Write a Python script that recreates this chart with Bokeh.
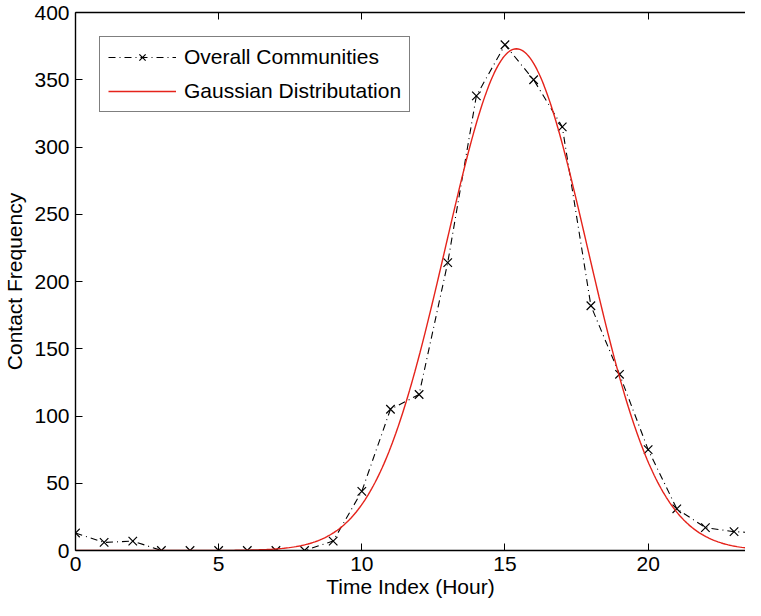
import numpy as np
from bokeh.plotting import figure
from bokeh.models import LinearAxis, Range1d, Legend, LegendItem, FixedTicker
from bokeh.embed import file_html
from bokeh.resources import INLINE

hours = list(range(0, 25))
contacts = [13, 6, 7, 0, 0, 0, 0, 0, 0, 7, 44, 105, 116, 214, 338, 376,
            350, 315, 182, 131, 75, 31, 17, 14, 13]
# Gaussian fit parameters (amplitude, mean, std)
g_amp, g_mu, g_sigma = 373.0, 15.4, 2.47
x_ticks = [0, 5, 10, 15, 20]
y_ticks = [0, 50, 100, 150, 200, 250, 300, 350, 400]

gx = np.linspace(0, 24, 400)
gy = g_amp * np.exp(-((gx - g_mu) ** 2) / (2 * g_sigma ** 2))

FONT = "Liberation Sans"
FS = "21px"

p = figure(width=745, height=600, output_backend="svg", toolbar_location=None,
           x_range=Range1d(0, 23.4), y_range=Range1d(0, 400),
           min_border_left=74, min_border_top=12, min_border_right=0,
           min_border_bottom=50, x_axis_location=None, y_axis_location=None)
p.grid.visible = False
p.outline_line_color = None
p.background_fill_color = "white"
p.border_fill_color = "white"

def style(ax, ticks):
    ax.ticker = FixedTicker(ticks=ticks)
    ax.axis_line_color = "black"
    ax.axis_line_width = 1.4
    ax.major_tick_in = 7
    ax.major_tick_out = 0
    ax.minor_tick_line_color = None
    ax.major_tick_line_color = "black"
    ax.major_label_text_font = FONT
    ax.major_label_text_font_size = FS
    ax.major_label_text_color = "black"
    ax.axis_label_text_font = FONT
    ax.axis_label_text_font_size = FS
    ax.axis_label_text_font_style = "normal"
    ax.axis_label_text_color = "black"

xb = LinearAxis(axis_label="Time Index (Hour)")
style(xb, x_ticks)
xb.major_label_standoff = 6
xb.axis_label_standoff = 1
p.add_layout(xb, "below")

yl = LinearAxis(axis_label="Contact Frequency")
style(yl, y_ticks)
yl.major_label_standoff = 6
yl.axis_label_standoff = 5
p.add_layout(yl, "left")

xt = LinearAxis()
style(xt, x_ticks)
xt.major_label_overrides = {t: "" for t in x_ticks}
xt.major_label_standoff = 0
p.add_layout(xt, "above")

r1 = p.line(hours, contacts, line_color="black", line_width=1.1, line_dash="7 4 1 4")
r1m = p.scatter(hours, contacts, marker="x", size=12, line_color="black", line_width=1.2)
r2 = p.line(gx, gy, line_color="#e5231b", line_width=1.4)

legend = Legend(items=[LegendItem(label="Overall Communities", renderers=[r1, r1m]),
                       LegendItem(label="Gaussian Distributation", renderers=[r2])],
                location="top_left")
legend.border_line_color = "black"
legend.border_line_width = 1.4
legend.background_fill_alpha = 1
legend.label_text_font = FONT
legend.label_text_font_size = FS
legend.label_text_color = "black"
legend.glyph_width = 68
legend.glyph_height = 22
legend.label_height = 22
legend.spacing = 10
legend.padding = 8
legend.margin = 24
legend.label_standoff = 8
p.add_layout(legend, "center")

open("out.html", "w").write(file_html(p, INLINE))
